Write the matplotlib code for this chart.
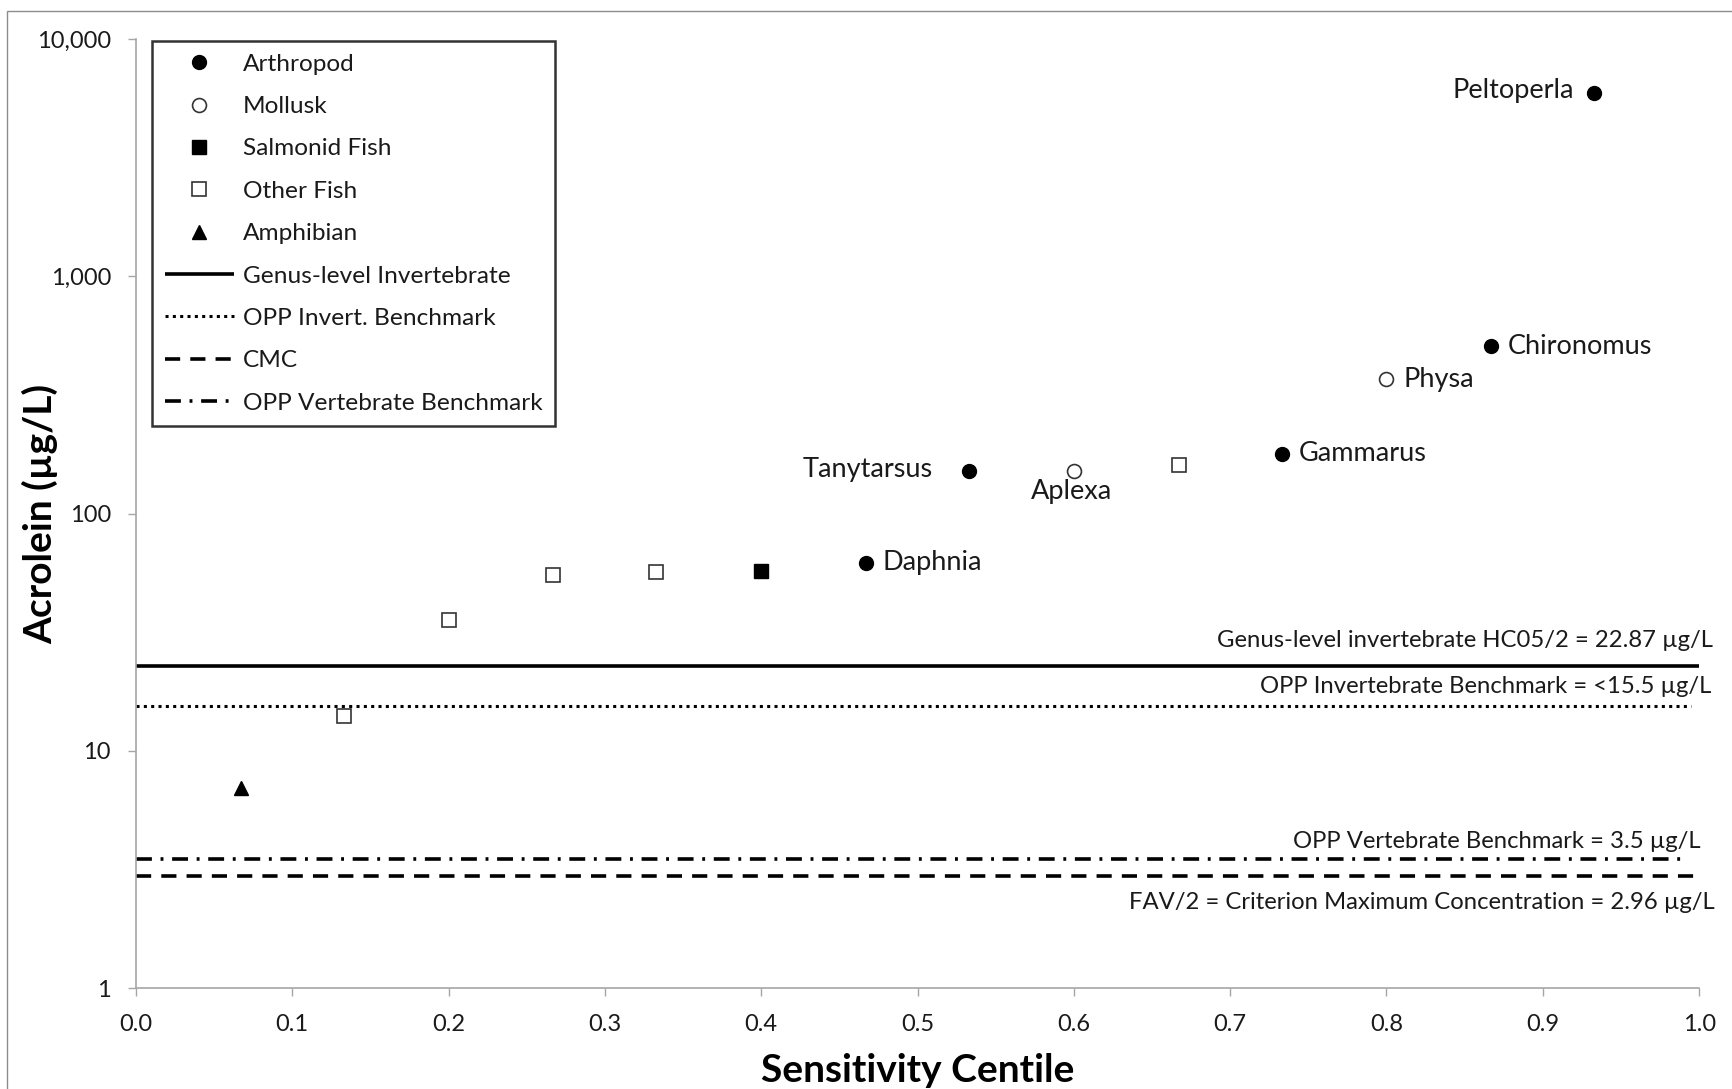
import matplotlib.pyplot as plt
from matplotlib.lines import Line2D
from matplotlib.patches import Rectangle
from matplotlib.ticker import FixedLocator, FuncFormatter, NullLocator

plt.rcParams['font.family'] = ['Lato', 'DejaVu Sans']

# Genus mean acute values by taxon group (sensitivity centile, µg/L)
arthropod_x = [0.467, 0.533, 0.733, 0.867, 0.933]
arthropod_y = [62, 151, 179, 508, 5913]
arthropod_names = ['Daphnia', 'Tanytarsus', 'Gammarus', 'Chironomus', 'Peltoperla']

mollusk_x = [0.600, 0.800]
mollusk_y = [151, 368]
mollusk_names = ['Aplexa', 'Physa']

salmonid_x = [0.400]
salmonid_y = [57]

other_fish_x = [0.133, 0.200, 0.267, 0.333, 0.667]
other_fish_y = [14, 35.5, 55, 56.5, 160]

amphibian_x = [0.067]
amphibian_y = [7.0]

# Benchmark / criterion values (µg/L)
genus_invert_hc05 = 22.87
opp_invert = 15.5
opp_vert = 3.5
cmc = 2.96

x_ticks = [0.0, 0.1, 0.2, 0.3, 0.4, 0.5, 0.6, 0.7, 0.8, 0.9, 1.0]
y_ticks = [1, 10, 100, 1000, 10000]

text_color = '#1a1a1a'
axis_gray = '#a6a6a6'

fig = plt.figure(figsize=(17.32, 10.89), dpi=100)
ax = fig.add_axes([0.0785, 0.0927, 0.9025, 0.8715])

# thin frame around the whole chart area
fig.patches.append(Rectangle((0.004, -0.02), 1.1, 1.0098, transform=fig.transFigure,
                             fill=False, edgecolor='#8c8c8c', linewidth=1.0))

ms = 10
ax.plot(arthropod_x, arthropod_y, 'o', ms=ms, mfc='black', mec='black', label='Arthropod', clip_on=False)
ax.plot(mollusk_x, mollusk_y, 'o', ms=ms, mfc='white', mec='#333333', mew=1.2, label='Mollusk', clip_on=False)
ax.plot(salmonid_x, salmonid_y, 's', ms=ms, mfc='black', mec='black', label='Salmonid Fish', clip_on=False)
ax.plot(other_fish_x, other_fish_y, 's', ms=ms, mfc='white', mec='#333333', mew=1.2, label='Other Fish', clip_on=False)
ax.plot(amphibian_x, amphibian_y, '^', ms=ms, mfc='black', mec='black', label='Amphibian', clip_on=False)

# horizontal benchmark lines
solid_style = dict(color='black', lw=2.6, solid_capstyle='butt')
dot_style = dict(color='black', lw=2.2, dashes=(1, 1.4))
dash_style = dict(color='black', lw=2.6, dashes=(4.2, 2.8))
dashdot_style = dict(color='black', lw=2.6, dashes=(4.4, 2.4, 0.8, 2.4))
ax.plot([0, 1.0], [genus_invert_hc05] * 2, **solid_style)
ax.plot([0, 0.995], [opp_invert] * 2, **dot_style)
ax.plot([0, 0.99], [opp_vert] * 2, **dashdot_style)
ax.plot([0, 1.0], [cmc] * 2, **dash_style)

line_fs = 17.2
ax.annotate('Genus-level invertebrate HC05/2 = %.2f µg/L' % genus_invert_hc05,
            xy=(1.009, genus_invert_hc05), xytext=(0, 18), textcoords='offset points',
            ha='right', va='center', fontsize=line_fs, color=text_color, annotation_clip=False)
ax.annotate('OPP Invertebrate Benchmark = <%.1f µg/L' % opp_invert,
            xy=(1.008, opp_invert), xytext=(0, 14), textcoords='offset points',
            ha='right', va='center', fontsize=line_fs, color=text_color, annotation_clip=False)
ax.annotate('OPP Vertebrate Benchmark = %.1f µg/L' % opp_vert,
            xy=(1.001, opp_vert), xytext=(0, 12.5), textcoords='offset points',
            ha='right', va='center', fontsize=line_fs, color=text_color, annotation_clip=False)
ax.annotate('FAV/2 = Criterion Maximum Concentration = %.2f µg/L' % cmc,
            xy=(1.010, cmc), xytext=(0, -19), textcoords='offset points',
            ha='right', va='center', fontsize=line_fs, color=text_color, annotation_clip=False)

# genus labels next to the points
label_fs = 19.5
label_offsets = {
    'Daphnia': ((12, 0), 'left'),
    'Tanytarsus': ((-26, 1), 'right'),
    'Gammarus': ((12, 0), 'left'),
    'Chironomus': ((12, 0), 'left'),
    'Peltoperla': ((-15, 2), 'right'),
    'Physa': ((12, 0), 'left'),
}
for name, x, y in zip(arthropod_names + mollusk_names[1:],
                      arthropod_x + mollusk_x[1:], arthropod_y + mollusk_y[1:]):
    off, ha = label_offsets[name]
    ax.annotate(name, xy=(x, y), xytext=off, textcoords='offset points',
                ha=ha, va='center', fontsize=label_fs, color=text_color)
ax.annotate(mollusk_names[0], xy=(mollusk_x[0], mollusk_y[0]), xytext=(-2, -15),
            textcoords='offset points', ha='center', va='center',
            fontsize=label_fs, color=text_color)

ax.set_yscale('log')
ax.set_xlim(0, 1.0)
ax.set_ylim(1, 10000)
ax.xaxis.set_major_locator(FixedLocator(x_ticks))
ax.xaxis.set_major_formatter(FuncFormatter(lambda v, p: '%.1f' % v))
ax.yaxis.set_major_locator(FixedLocator(y_ticks))
ax.yaxis.set_minor_locator(NullLocator())
ax.yaxis.set_major_formatter(FuncFormatter(lambda v, p: '{:,.0f}'.format(v)))

for side in ['top', 'right']:
    ax.spines[side].set_visible(False)
for side in ['left', 'bottom']:
    ax.spines[side].set_color(axis_gray)
    ax.spines[side].set_linewidth(1.2)
ax.tick_params(axis='both', which='major', direction='out', length=6, width=1,
               color=axis_gray, labelsize=17, labelcolor=text_color)
ax.tick_params(axis='y', pad=12)
ax.tick_params(axis='x', pad=13)

ax.set_xlabel('Sensitivity Centile', fontsize=28, fontweight='bold', color='black')
ax.set_ylabel('Acrolein (µg/L)', fontsize=28, fontweight='bold', color='black')
ax.xaxis.set_label_coords(0.5, -0.068)
ax.yaxis.set_label_coords(-0.050, 0.5)

handles, labels = ax.get_legend_handles_labels()
handles += [
    Line2D([], [], **solid_style),
    Line2D([], [], **dot_style),
    Line2D([], [], **dash_style),
    Line2D([], [], **dashdot_style),
]
labels += ['Genus-level Invertebrate', 'OPP Invert. Benchmark', 'CMC', 'OPP Vertebrate Benchmark']
leg = ax.legend(handles, labels, loc='upper left', bbox_to_anchor=(0.0102, 0.998),
                fontsize=17.6, frameon=True, fancybox=False, edgecolor='black',
                handlelength=2.85, handletextpad=0.35, labelspacing=0.87,
                borderpad=0.52, borderaxespad=0, labelcolor=text_color)
leg.get_frame().set_linewidth(1.8)

plt.savefig('out.png', dpi=100)
plt.close()
